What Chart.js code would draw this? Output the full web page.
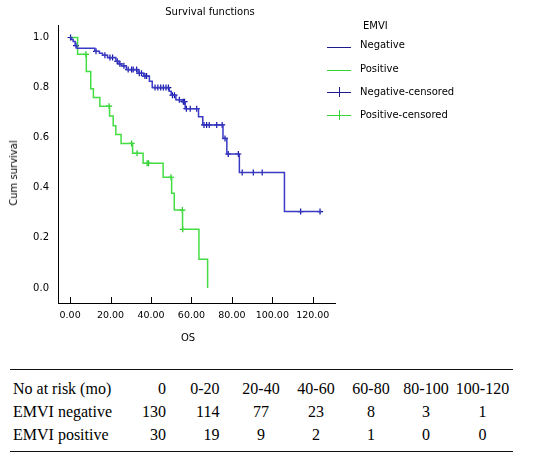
<!DOCTYPE html>
<html>
<head>
<meta charset="utf-8">
<script src="https://cdn.jsdelivr.net/npm/chart.js@4.4.1/dist/chart.umd.min.js"></script>
<style>
  body { margin: 0; background: #fff; }
  #wrap { position: relative; width: 548px; height: 458px; overflow: hidden; }
  #km { position: absolute; left: 0; top: 0; }
  .lbl { position: absolute; font: 10px "DejaVu Sans", sans-serif; line-height: 12px; color: #000; white-space: nowrap; transform: translate(-50%, -50%); }
  .lft { transform: translate(0, -50%); }
  .rot { transform: translate(-50%, -50%) rotate(-90deg); }
  .sample { position: absolute; left: 327px; width: 24px; height: 1px; }
  .tick { position: absolute; left: 339px; width: 1px; height: 10px; }
  #risk { position: absolute; left: 10px; top: 369px; width: 503px; height: 81px; border-top: 1px solid #111; border-bottom: 1px solid #111; }
  #risk table { border-collapse: collapse; table-layout: fixed; margin-top: 7px; font: 16px "Liberation Serif", serif; color: #000; }
  #risk td { height: 23px; padding: 0; white-space: nowrap; text-align: center; }
  #risk td.name { text-align: left; padding-left: 3px; }
  #risk td.r { text-align: right; padding-right: 4px; }
  #risk td.r2 { text-align: right; padding-right: 14px; }
</style>
</head>
<body>
<div id="wrap">
  <canvas id="km" width="548" height="345"></canvas>
  <div class="lbl" style="left:210px;top:12px">Survival functions</div>
  <div class="lbl rot" style="left:14px;top:173px">Cum survival</div>
  <div class="lbl" style="left:188px;top:338px">OS</div>

  <div class="lbl lft" style="left:363px;top:26px">EMVI</div>
  <div class="sample" style="top:47px;background:#1c1c8e"></div>
  <div class="lbl lft" style="left:360px;top:45px">Negative</div>
  <div class="sample" style="top:70px;background:#33d433"></div>
  <div class="lbl lft" style="left:360px;top:69px">Positive</div>
  <div class="sample" style="top:92px;background:#1c1c8e"></div>
  <div class="tick" style="top:87px;background:#1c1c8e"></div>
  <div class="lbl lft" style="left:360px;top:92px">Negative-censored</div>
  <div class="sample" style="top:115px;background:#33d433"></div>
  <div class="tick" style="top:110px;background:#33d433"></div>
  <div class="lbl lft" style="left:360px;top:115px">Positive-censored</div>

  <div id="risk"><table id="riskTable">
    <colgroup>
      <col style="width:130px"><col style="width:30px"><col style="width:63.5px">
      <col style="width:55px"><col style="width:55px"><col style="width:55px"><col style="width:55px"><col style="width:58px">
    </colgroup>
    <tbody></tbody>
  </table></div>
</div>
<script>
// survival steps (time of drop, survival after drop)
const negDropTimes = [0.8, 1.5, 2.5, 3.4, 12.2, 14.5, 16.0, 18.5, 22.6, 24.2, 25.4, 27.8, 33.6, 36.4, 39.2, 40.6, 49.0, 50.0, 52.3, 55.5, 56.9, 63.5, 65.6, 75.6, 77.5, 83.7, 106.0];
const negDropSurv  = [0.992, 0.984, 0.968, 0.957, 0.945, 0.937, 0.929, 0.920, 0.905, 0.895, 0.887, 0.872, 0.857, 0.846, 0.825, 0.800, 0.785, 0.770, 0.752, 0.744, 0.716, 0.684, 0.651, 0.597, 0.535, 0.461, 0.305];
const negEndTime = 124.4;

const negCensorTimes = [0.2, 2.9, 12.8, 17.2, 19.7, 21.0, 23.3, 24.6, 26.6, 28.7, 30.4, 31.2, 32.9, 34.2, 35.3, 37.0, 37.8, 42.0, 43.4, 44.8, 46.1, 47.4, 48.6, 50.6, 51.6, 54.0, 56.0, 56.6, 57.5, 59.4, 62.6, 66.2, 67.5, 68.8, 72.5, 75.2, 76.6, 78.2, 83.2, 85.1, 90.6, 95.0, 114.0, 123.6];
const negCensorSurv  = [1.0, 0.968, 0.945, 0.929, 0.920, 0.920, 0.905, 0.895, 0.887, 0.872, 0.872, 0.872, 0.872, 0.857, 0.857, 0.846, 0.846, 0.800, 0.800, 0.800, 0.800, 0.800, 0.800, 0.770, 0.770, 0.752, 0.744, 0.744, 0.716, 0.716, 0.716, 0.651, 0.651, 0.651, 0.651, 0.651, 0.597, 0.535, 0.535, 0.461, 0.461, 0.461, 0.305, 0.305];

const posDropTimes = [3.7, 8.0, 10.2, 11.5, 14.7, 19.5, 21.3, 22.6, 25.2, 30.9, 36.1, 46.0, 50.2, 51.5, 55.6, 63.7, 68.0];
const posDropSurv  = [0.933, 0.864, 0.795, 0.761, 0.726, 0.687, 0.648, 0.613, 0.577, 0.538, 0.498, 0.442, 0.378, 0.311, 0.234, 0.115, 0.0];

const posCensorTimes = [7.8, 19.3, 30.4, 33.1, 38.1, 38.8, 49.9, 55.5, 55.7];
const posCensorSurv  = [0.933, 0.726, 0.577, 0.538, 0.498, 0.498, 0.442, 0.311, 0.234];

const xTicks = [0, 20, 40, 60, 80, 100, 120];
const yTicks = [0, 0.2, 0.4, 0.6, 0.8, 1.0];

// number at risk table
const riskHeader = ["No at risk (mo)", "0", "0-20", "20-40", "40-60", "60-80", "80-100", "100-120"];
const riskNegative = ["EMVI negative", 130, 114, 77, 23, 8, 3, 1];
const riskPositive = ["EMVI positive", 30, 19, 9, 2, 1, 0, 0];

function stepPoints(times, surv, endTime) {
  const pts = [{ x: 0, y: 1 }];
  times.forEach((t, i) => pts.push({ x: t, y: surv[i] }));
  if (endTime !== undefined) pts.push({ x: endTime, y: surv[surv.length - 1] });
  return pts;
}
function censorPoints(times, surv) {
  return times.map((t, i) => ({ x: t, y: surv[i] }));
}

const innerTicks = {
  id: "innerTicks",
  afterDraw(chart) {
    const { ctx, chartArea, scales } = chart;
    const xs = scales.x;
    ctx.save();
    ctx.strokeStyle = "#000";
    ctx.lineWidth = 1;
    xs.ticks.forEach(t => {
      const px = Math.round(xs.getPixelForValue(t.value)) + 0.5;
      ctx.beginPath();
      ctx.moveTo(px, chartArea.bottom);
      ctx.lineTo(px, chartArea.bottom - 6);
      ctx.stroke();
    });
    ctx.restore();
  }
};

const ctx = document.getElementById("km").getContext("2d");
new Chart(ctx, {
  type: "line",
  data: {
    datasets: [
      {
        label: "Negative",
        data: stepPoints(negDropTimes, negDropSurv, negEndTime),
        stepped: "before",
        borderColor: "#3a3ac4",
        borderWidth: 1.5,
        pointRadius: 0,
        fill: false
      },
      {
        label: "Positive",
        data: stepPoints(posDropTimes, posDropSurv),
        stepped: "before",
        borderColor: "#44dd44",
        borderWidth: 1.5,
        pointRadius: 0,
        fill: false
      },
      {
        label: "Negative-censored",
        data: censorPoints(negCensorTimes, negCensorSurv),
        showLine: false,
        pointStyle: "cross",
        pointRadius: 3,
        borderColor: "#1414a8",
        borderWidth: 1.2
      },
      {
        label: "Positive-censored",
        data: censorPoints(posCensorTimes, posCensorSurv),
        showLine: false,
        pointStyle: "cross",
        pointRadius: 3,
        borderColor: "#22c822",
        borderWidth: 1.2
      }
    ]
  },
  options: {
    responsive: false,
    animation: false,
    devicePixelRatio: 1,
    layout: { padding: { left: 0, right: 213, top: 25, bottom: 0 } },
    plugins: {
      legend: { display: false },
      tooltip: { enabled: false },
      title: { display: false }
    },
    scales: {
      x: {
        type: "linear",
        min: -6,
        max: 131,
        afterBuildTicks: s => { s.ticks = xTicks.map(v => ({ value: v })); },
        afterFit: s => { s.height = 42; },
        grid: { display: false, drawTicks: false },
        border: { display: true, color: "#000", width: 1 },
        ticks: {
          padding: 7,
          color: "#000",
          autoSkip: false,
          maxRotation: 0,
          font: { family: "DejaVu Sans", size: 9.5 },
          callback: v => v.toFixed(2)
        }
      },
      y: {
        type: "linear",
        min: -0.06,
        max: 1.05,
        afterBuildTicks: s => { s.ticks = yTicks.map(v => ({ value: v })); },
        afterFit: s => { s.width = 58; },
        grid: { display: false, drawTicks: false },
        border: { display: true, color: "#000", width: 1 },
        ticks: {
          padding: 9,
          color: "#000",
          font: { family: "DejaVu Sans", size: 10 },
          callback: v => v.toFixed(1)
        }
      }
    }
  },
  plugins: [innerTicks]
});

// fill the at-risk table
const tbody = document.querySelector("#riskTable tbody");
[riskHeader, riskNegative, riskPositive].forEach(row => {
  const tr = document.createElement("tr");
  row.forEach((cell, i) => {
    const td = document.createElement("td");
    td.textContent = cell;
    if (i === 0) td.className = "name";
    else if (i === 1) td.className = "r";
    else if (i === 2) td.className = "r2";
    tr.appendChild(td);
  });
  tbody.appendChild(tr);
});
</script>
</body>
</html>
